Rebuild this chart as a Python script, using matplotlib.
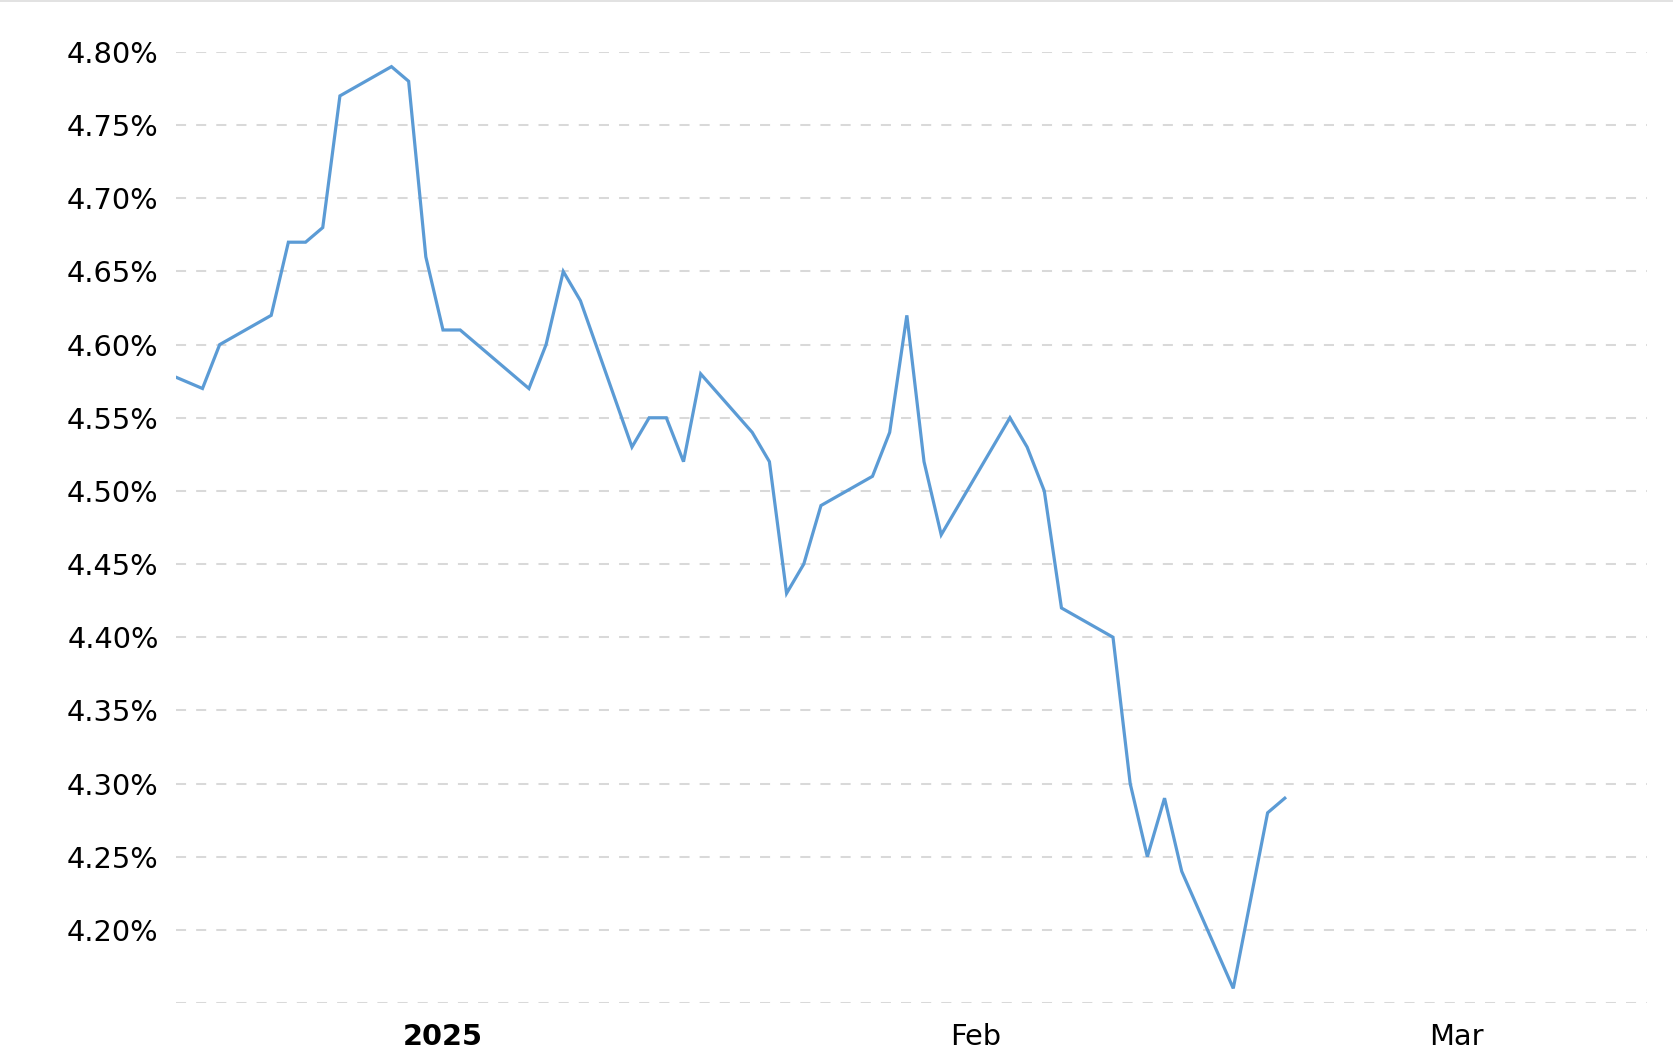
import matplotlib
matplotlib.use('Agg')
import matplotlib.pyplot as plt
import pandas as pd
from matplotlib.ticker import FixedLocator, FuncFormatter

# dates as they sit on the chart's own time axis
dates = ['2024-12-16', '2024-12-18', '2024-12-19', '2024-12-22', '2024-12-23',
         '2024-12-24', '2024-12-25', '2024-12-26', '2024-12-29', '2024-12-30',
         '2024-12-31', '2025-01-01', '2025-01-02', '2025-01-06', '2025-01-07',
         '2025-01-08', '2025-01-09', '2025-01-12', '2025-01-13', '2025-01-14',
         '2025-01-15', '2025-01-16', '2025-01-19', '2025-01-20', '2025-01-21',
         '2025-01-22', '2025-01-23', '2025-01-26', '2025-01-27', '2025-01-28',
         '2025-01-29', '2025-01-30', '2025-02-03', '2025-02-04', '2025-02-05',
         '2025-02-06', '2025-02-09', '2025-02-10', '2025-02-11', '2025-02-12',
         '2025-02-13', '2025-02-16', '2025-02-17', '2025-02-18', '2025-02-19']
yields = [4.58, 4.57, 4.60, 4.62, 4.67, 4.67, 4.68, 4.77, 4.79, 4.78,
          4.66, 4.61, 4.61, 4.57, 4.60, 4.65, 4.63, 4.53, 4.55, 4.55,
          4.52, 4.58, 4.54, 4.52, 4.43, 4.45, 4.49, 4.51, 4.54, 4.62,
          4.52, 4.47, 4.55, 4.53, 4.50, 4.42, 4.40, 4.30, 4.25, 4.29,
          4.24, 4.16, 4.22, 4.28, 4.29]

y_ticks = [4.15, 4.20, 4.25, 4.30, 4.35, 4.40, 4.45, 4.50, 4.55, 4.60,
           4.65, 4.70, 4.75, 4.80]
month_ticks = ['2025-01-01', '2025-02-01', '2025-03-01']
month_labels = ['2025', 'Feb', 'Mar']

x = pd.to_datetime(dates)

fig = plt.figure(figsize=(16.74, 10.58), dpi=100)
ax = fig.add_axes([176 / 1674, 1 - 1003 / 1058, (1647 - 176) / 1674, (1003 - 52) / 1058])

ax.plot(x, yields, color='#5b9bd5', linewidth=2.3, solid_joinstyle='miter', zorder=3)

ax.set_xlim(pd.Timestamp('2024-12-16 11:00'), pd.Timestamp('2025-03-12 02:00'))
ax.set_ylim(4.15, 4.80)

ax.yaxis.set_major_locator(FixedLocator(y_ticks))
ax.yaxis.set_major_formatter(FuncFormatter(lambda v, p: '' if v < 4.17 else '%.2f%%' % v))
ax.grid(axis='y', color='#d9d9d9', linestyle=(0, (5, 5)), linewidth=1.45)
ax.set_axisbelow(True)

ax.set_xticks(pd.to_datetime(month_ticks))
ax.set_xticklabels(month_labels)
ax.get_xticklabels()[0].set_fontweight('bold')

ax.tick_params(axis='y', length=0, pad=12.5, labelsize=20.8)
ax.tick_params(axis='x', length=0, pad=14.5, labelsize=20.8)

for s in ax.spines.values():
    s.set_visible(False)

# thin border along the top of the image
fig.add_artist(plt.Line2D([0, 1], [0.9995, 0.9995], color='#dddddd', linewidth=1.2))

fig.savefig('out.png', dpi=100, facecolor='white')
